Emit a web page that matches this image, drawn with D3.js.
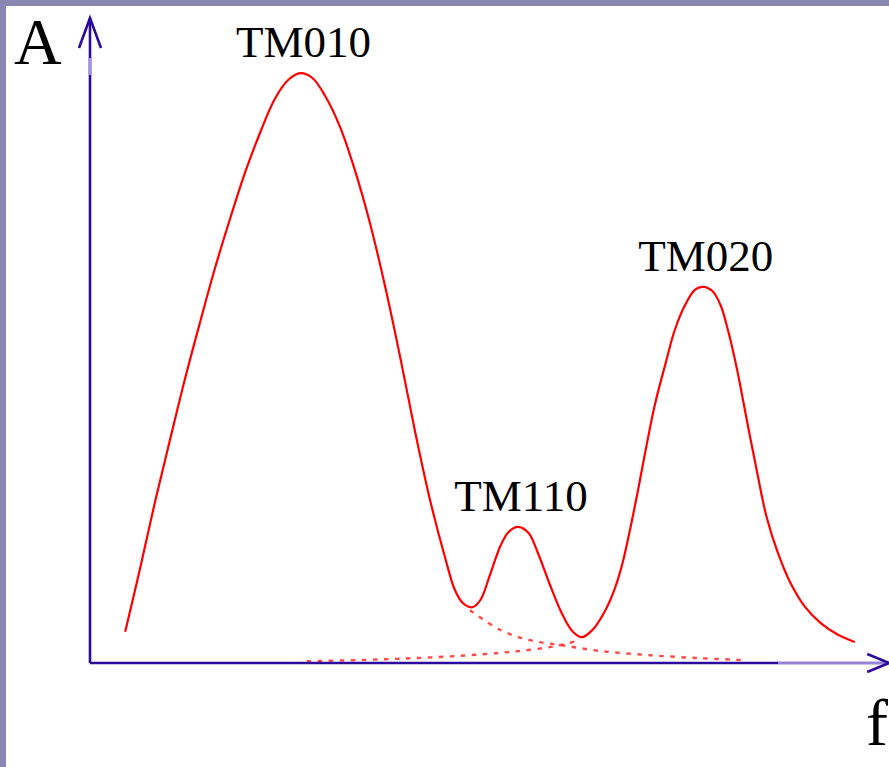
<!DOCTYPE html>
<html>
<head>
<meta charset="utf-8">
<script src="https://cdn.jsdelivr.net/npm/d3@7"></script>
<style>
  html, body { margin: 0; padding: 0; background: #ffffff; }
  svg { display: block; }
  .lbl { font-family: "Liberation Serif", "DejaVu Serif", serif; fill: #000; }
</style>
</head>
<body>
<svg id="chart" width="889" height="767"></svg>
<script>
// Resonance spectrum of a pill-box cavity: amplitude A against frequency f.

// Measured response (sum of the modes), frequency in arbitrary units
const responseF = [4.4, 6.3, 8.1, 10.0, 11.9, 13.8, 15.6, 17.5, 19.4, 21.3, 23.1, 24.8, 26.3,
  27.8, 29.4, 31.3, 33.1, 35.0, 36.9, 38.8, 40.6, 42.5, 44.4, 45.6, 46.6, 47.8,
  48.8, 50.0, 51.3, 52.3, 53.5, 54.8, 56.0, 57.5, 59.0, 60.3, 61.5,
  62.8, 64.1, 65.4, 66.5, 67.5, 68.5, 69.5, 70.6, 71.9, 73.1, 74.4, 75.6, 76.6,
  77.8, 78.8, 79.8, 80.9, 82.1, 83.4, 84.6, 86.0, 87.5, 89.4, 91.3, 93.5, 95.6];
const responseA = [5.2, 16.0, 26.7, 37.2, 47.5, 57.0, 65.7, 74.0, 81.8, 88.5, 94.0, 97.2, 98.3,
  97.5, 94.5, 89.2, 82.2, 73.3, 62.7, 50.8, 38.8, 27.2, 17.5, 12.2, 10.0, 9.3,
  10.5, 14.7, 19.5, 21.8, 22.7, 21.7, 18.3, 13.0, 8.2, 5.3, 4.3,
  5.5, 8.0, 11.7, 16.3, 22.2, 28.8, 35.8, 43.0, 49.7, 55.5, 59.7, 62.2, 62.7,
  62.0, 59.7, 55.2, 48.8, 40.5, 31.7, 24.2, 18.3, 13.5, 9.3, 6.7, 4.7, 3.5];

// High-frequency tail of the TM010 mode
const tailTM010F = [47.5, 51.3, 55.0, 58.8, 63.8, 70.0, 76.3, 81.5];
const tailTM010A = [8.8, 5.5, 3.8, 3.0, 2.0, 1.3, 0.8, 0.5];

// Low-frequency tail of the TM020 mode
const tailTM020F = [27.1, 33.8, 40.4, 46.3, 51.3, 55.0, 58.1, 61.0];
const tailTM020A = [0.3, 0.5, 0.8, 1.2, 1.7, 2.2, 2.8, 3.7];

// Mode names and the peak each one labels
const modeNames = ["TM010", "TM110", "TM020"];
const modePeakF = [26.3, 53.5, 76.6];
const modePeakA = [98.3, 22.7, 62.7];

// Axis titles and axis extents
const axisTitleY = "A";
const axisTitleX = "f";
const fMax = 99.9;
const aMax = 107.5;

const svg = d3.select("#chart");
const W = 889, H = 767;

const x = d3.scaleLinear().domain([0, 100]).range([90, 890]);
const y = d3.scaleLinear().domain([0, 100]).range([663, 63]);

// page background and frame
svg.append("rect").attr("width", W).attr("height", H).attr("fill", "#ffffff");
svg.append("rect").attr("x", 0).attr("y", 0).attr("width", W).attr("height", 6).attr("fill", "#8a88b3");
svg.append("rect").attr("x", 0).attr("y", 0).attr("width", 6).attr("height", H).attr("fill", "#8a88b3");

const zip = (fs, as) => fs.map((f, i) => [f, as[i]]);
const line = d3.line()
  .x(d => x(d[0]))
  .y(d => y(d[1]))
  .curve(d3.curveCatmullRom.alpha(0.5));

// dashed mode tails
[zip(tailTM010F, tailTM010A), zip(tailTM020F, tailTM020A)].forEach(pts => {
  svg.append("path")
    .attr("d", line(pts))
    .attr("fill", "none")
    .attr("stroke", "#ff2a2a")
    .attr("stroke-width", 2.4)
    .attr("stroke-dasharray", "4.5,6.5")
    .attr("opacity", 0.85);
});

// axes
const axisColor = "#2b0a9c";
const g = svg.append("g").attr("fill", "none").attr("stroke-linecap", "butt");
g.append("line")
  .attr("x1", x(0)).attr("y1", y(0)).attr("x2", x(0)).attr("y2", y(aMax))
  .attr("stroke", axisColor).attr("stroke-width", 2.6);
g.append("line")
  .attr("x1", x(0)).attr("y1", y(0)).attr("x2", x(86)).attr("y2", y(0))
  .attr("stroke", axisColor).attr("stroke-width", 2.6);
g.append("line")
  .attr("x1", x(86)).attr("y1", y(0)).attr("x2", x(fMax) - 4).attr("y2", y(0))
  .attr("stroke", "#9583d6").attr("stroke-width", 3.2);
g.append("line")
  .attr("x1", x(0)).attr("y1", y(aMax) + 40).attr("x2", x(0)).attr("y2", y(aMax) + 57)
  .attr("stroke", "#a494e2").attr("stroke-width", 3.4);

// arrow heads
const tipY = [x(0), y(aMax)];
g.append("path")
  .attr("d", `M${tipY[0] - 11},${tipY[1] + 30} L${tipY[0]},${tipY[1]} L${tipY[0] + 11},${tipY[1] + 30}`)
  .attr("stroke", axisColor).attr("stroke-width", 2.6).attr("stroke-linejoin", "miter");
const tipX = [x(fMax), y(0)];
g.append("path")
  .attr("d", `M${tipX[0] - 22},${tipX[1] - 9} L${tipX[0]},${tipX[1]} L${tipX[0] - 22},${tipX[1] + 9}`)
  .attr("stroke", axisColor).attr("stroke-width", 2.6).attr("stroke-linejoin", "miter");

// response curve
svg.append("path")
  .attr("d", line(zip(responseF, responseA)))
  .attr("fill", "none")
  .attr("stroke", "#ff0000")
  .attr("stroke-width", 2.2)
  .attr("stroke-linejoin", "round");

// mode labels above their peaks
modeNames.forEach((name, i) => {
  svg.append("text")
    .attr("class", "lbl")
    .attr("x", x(modePeakF[i]) + 3)
    .attr("y", y(modePeakA[i]) - 16)
    .attr("text-anchor", "middle")
    .attr("font-size", 45)
    .text(name);
});

// axis titles
svg.append("text").attr("class", "lbl")
  .attr("x", 14).attr("y", 64).attr("font-size", 66).text(axisTitleY);
svg.append("text").attr("class", "lbl")
  .attr("x", 866).attr("y", 745).attr("font-size", 66).text(axisTitleX);
</script>
</body>
</html>
